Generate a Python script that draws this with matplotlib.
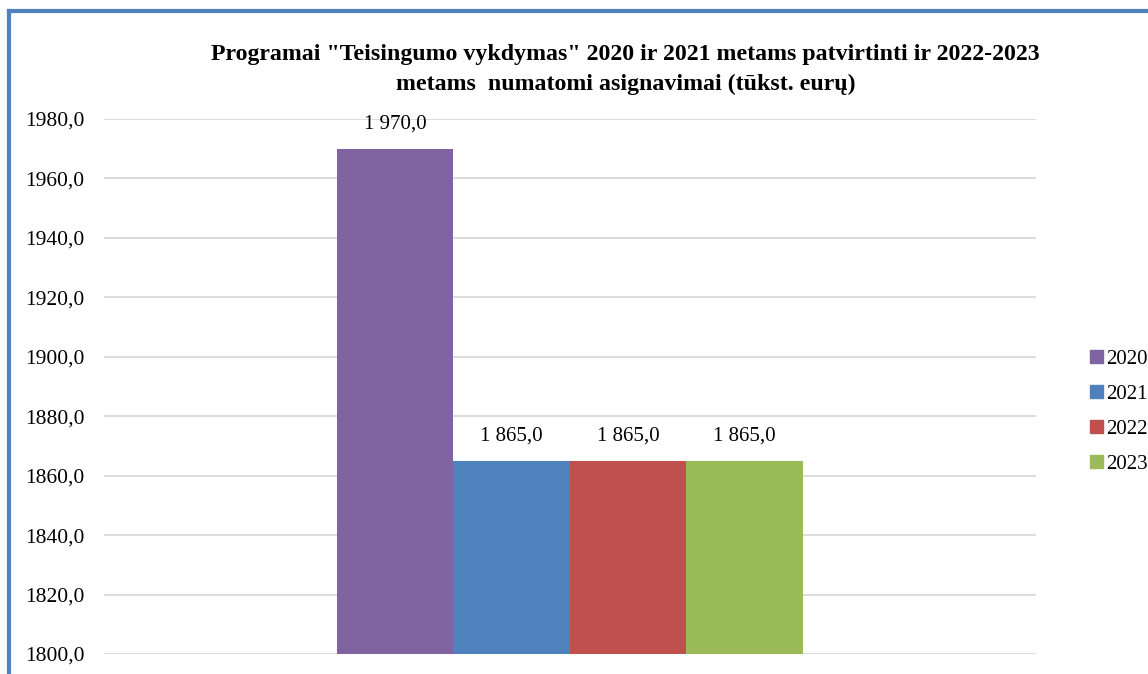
import matplotlib

matplotlib.use("Agg")
import matplotlib.pyplot as plt
from matplotlib.lines import Line2D
from matplotlib.patches import Patch

years = ["2020", "2021", "2022", "2023"]
values = [1970.0, 1865.0, 1865.0, 1865.0]
colors = ["#8064A2", "#4F81BD", "#C0504D", "#9BBB59"]
yticks = [1800, 1820, 1840, 1860, 1880, 1900, 1920, 1940, 1960, 1980]


def fmt_label(v):
    # data labels: space for thousands, comma decimal
    return f"{v:,.1f}".replace(",", " ").replace(".", ",")


def fmt_tick(v):
    return f"{v:.1f}".replace(".", ",")


plt.rcParams["font.family"] = ["Liberation Serif", "DejaVu Serif"]

fig = plt.figure(figsize=(11.48, 6.74), dpi=100)
ax = fig.add_axes([0.0906, 0.0297, 0.8118, 0.7937])

width = 0.125
for i, (y, v, c) in enumerate(zip(years, values, colors)):
    x = (i - 1.5) * width
    ax.bar(x, v - 1800, width=width, bottom=1800, color=c, zorder=2)
    ax.annotate(fmt_label(v), (x, v), xytext=(0, 11), textcoords="offset points",
                ha="center", va="bottom", fontsize=15, zorder=3)

ax.set_xlim(-0.5, 0.5)
ax.set_ylim(1800, 1980)
ax.set_yticks(yticks)
ax.set_yticklabels([fmt_tick(t) for t in yticks], fontsize=15.5)
ax.set_xticks([])
ax.tick_params(axis="y", length=0, pad=14)
for s in ax.spines.values():
    s.set_visible(False)
ax.grid(axis="y", color="#D9D9D9", lw=1.3, zorder=0)

fig.text(0.545, 0.897,
         "Programai \"Teisingumo vykdymas\" 2020 ir 2021 metams patvirtinti ir 2022-2023\n"
         "metams  numatomi asignavimai (tūkst. eurų)",
         ha="center", va="center", fontsize=17.2, fontweight="bold", linespacing=1.5)

handles = [Patch(color=c, label=y) for y, c in zip(years, colors)]
fig.legend(handles=handles, loc="center left", bbox_to_anchor=(0.9495, 0.389),
           frameon=False, fontsize=15, handlelength=0.6, handleheight=0.6,
           handletextpad=0.15, labelspacing=0.76, borderaxespad=0, borderpad=0)

# blue frame (top and left edges visible)
fig.add_artist(Line2D([0.0075, 1.0], [0.9836, 0.9836], transform=fig.transFigure,
                      color="#4F81BD", lw=3))
fig.add_artist(Line2D([0.0075, 0.0075], [0.0, 0.9836], transform=fig.transFigure,
                      color="#4F81BD", lw=3))

fig.savefig("out.png", dpi=100)
